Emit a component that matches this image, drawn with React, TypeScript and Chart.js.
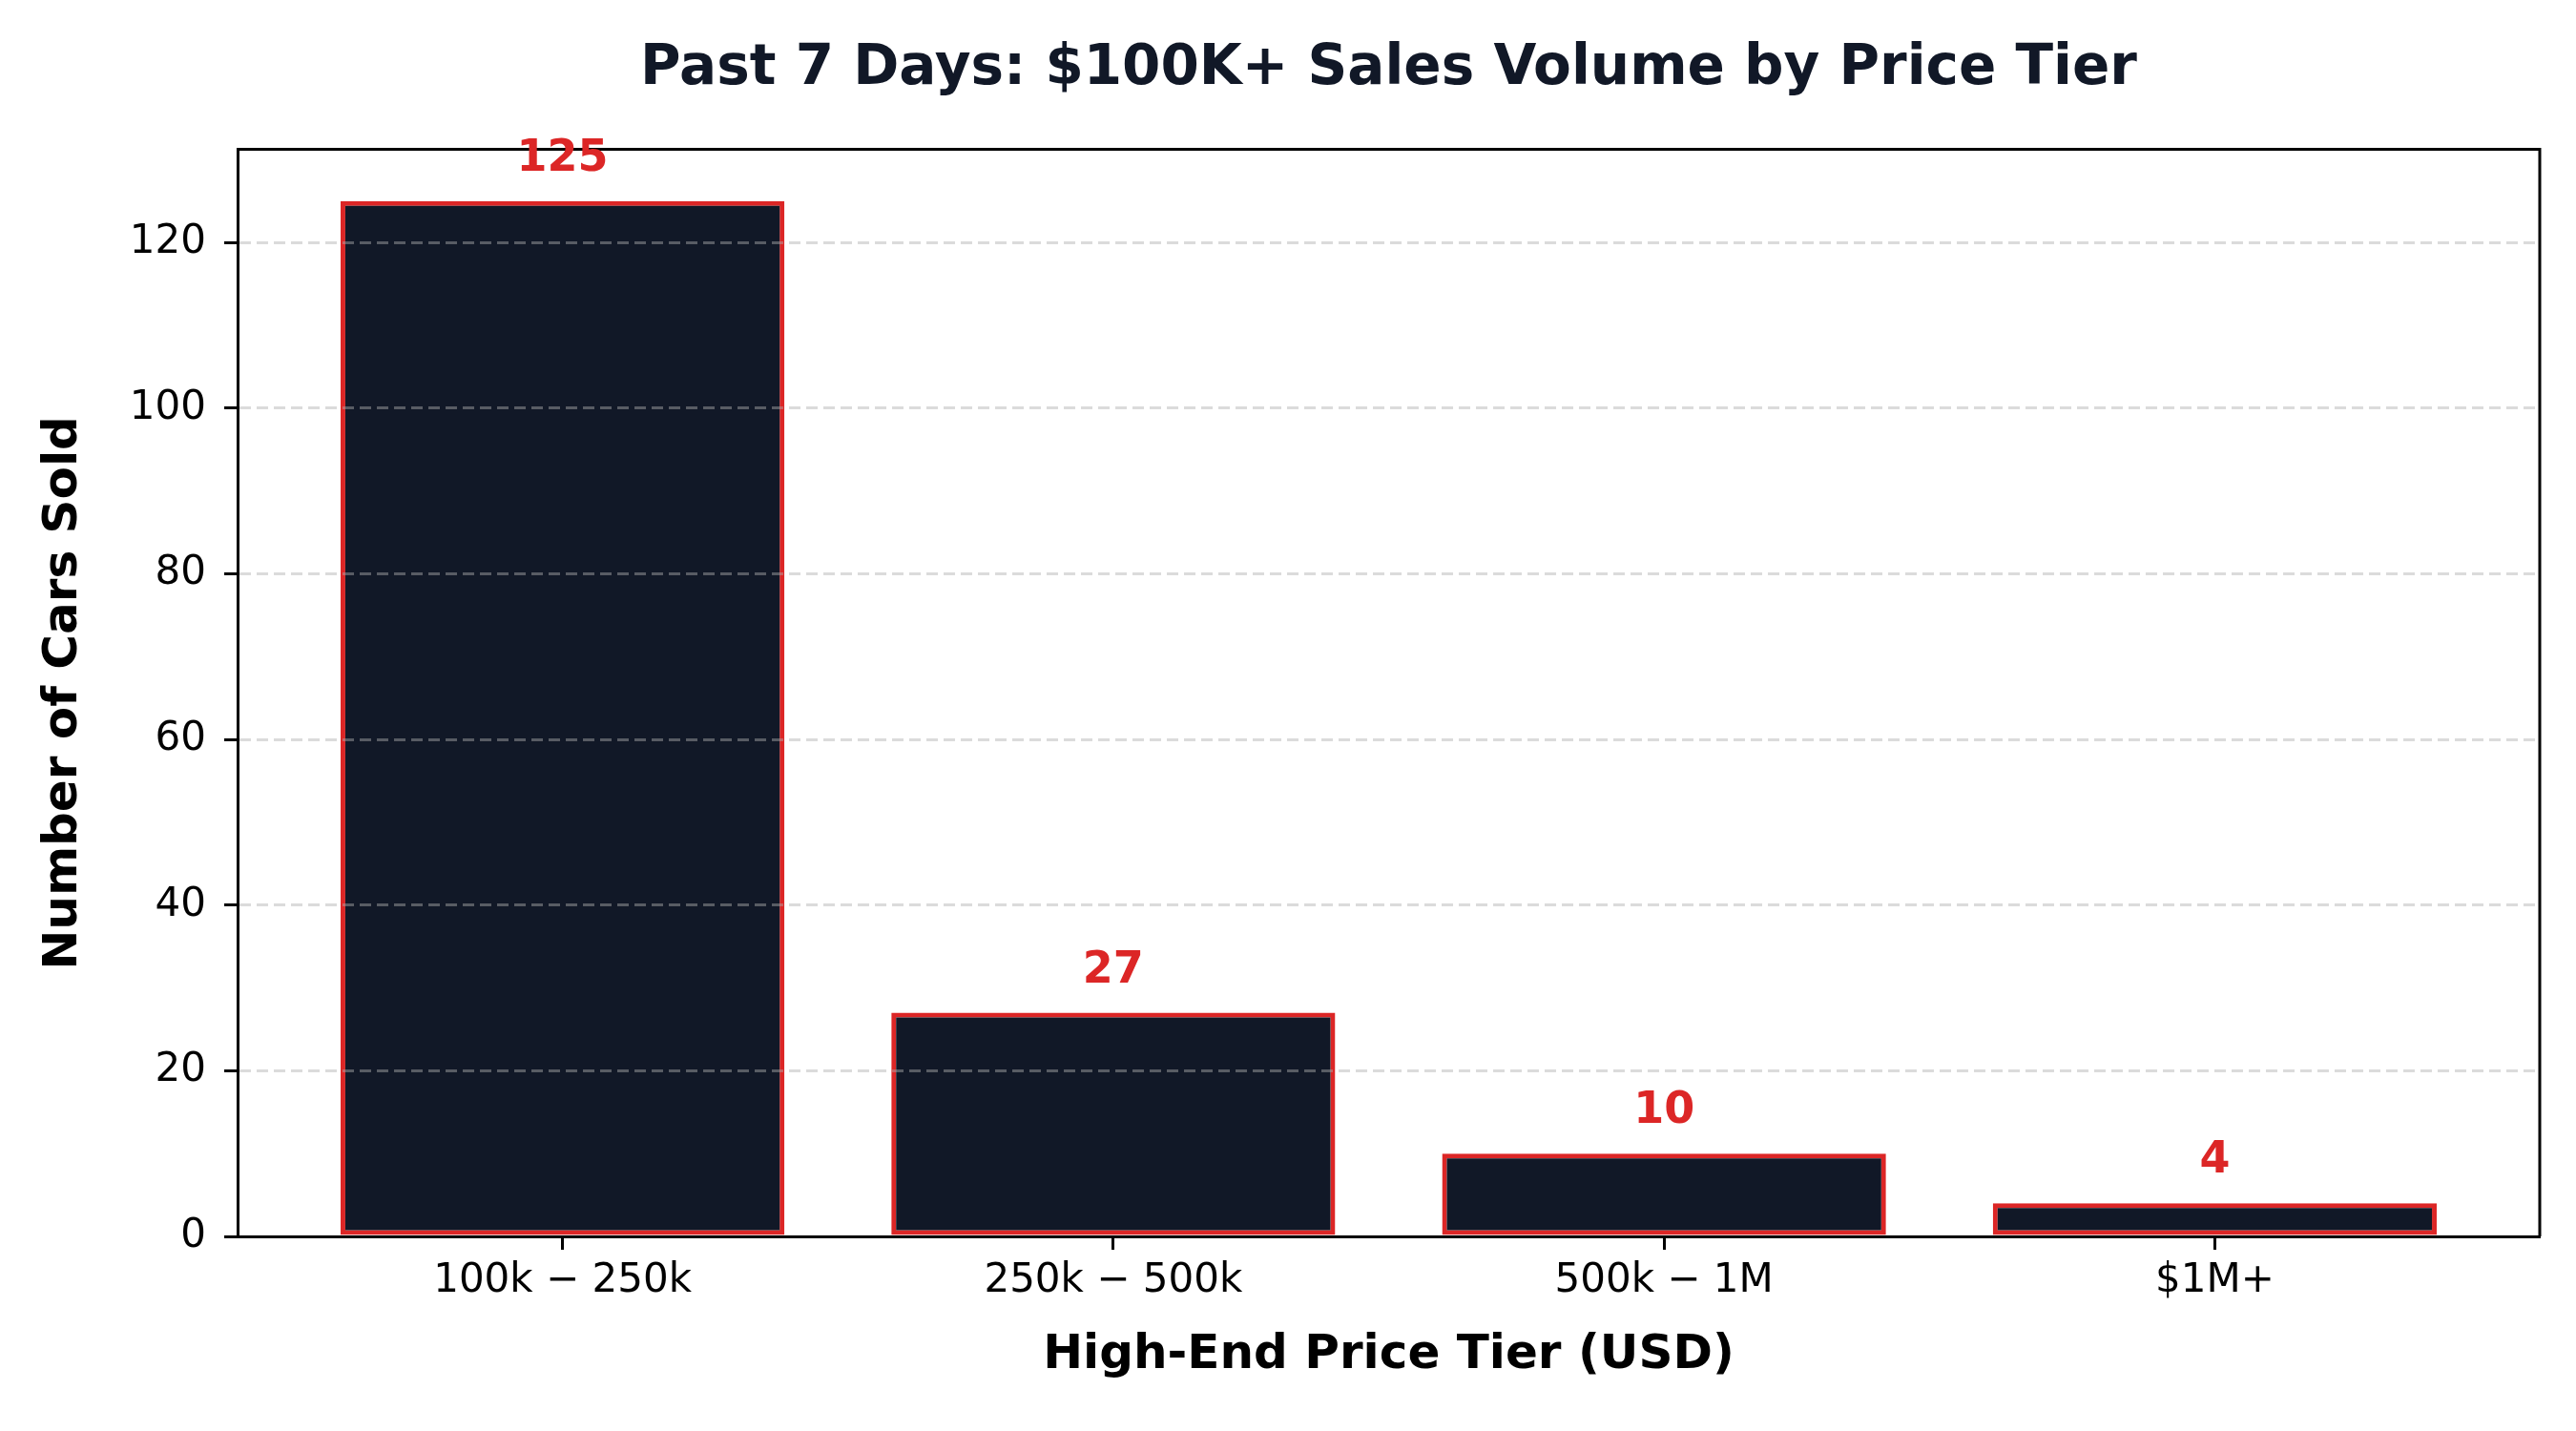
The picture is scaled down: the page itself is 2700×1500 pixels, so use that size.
import { useEffect, useRef } from "react"
import Chart from "chart.js/auto"

const categories = ["100k − 250k", "250k − 500k", "500k − 1M", "$1M+"]
const carsSold = [125, 27, 10, 4]
const yTicks = [0, 20, 40, 60, 80, 100, 120]

const NAVY = "#111827"
const RED = "#DC2626"
const FONT = "'DejaVu Sans', sans-serif"

// top + right spines and the red value labels over each bar
const framePlugin = {
  id: "frame",
  afterDraw(chart: any) {
    const { ctx, chartArea } = chart
    ctx.save()
    ctx.strokeStyle = "#000"
    ctx.lineWidth = 3
    ctx.beginPath()
    ctx.moveTo(chartArea.left, chartArea.top)
    ctx.lineTo(chartArea.right, chartArea.top)
    ctx.lineTo(chartArea.right, chartArea.bottom)
    ctx.stroke()

    const meta = chart.getDatasetMeta(0)
    ctx.fillStyle = RED
    ctx.font = `bold 46px ${FONT}`
    ctx.textAlign = "center"
    ctx.textBaseline = "alphabetic"
    meta.data.forEach((bar: any, i: number) => {
      ctx.fillText(String(carsSold[i]), bar.x, bar.y - 32)
    })
    ctx.restore()
  },
}

function SalesChart() {
  const chartRef = useRef<HTMLCanvasElement>(null)
  const chartInstance = useRef<Chart | null>(null)

  useEffect(() => {
    document.body.style.margin = "0"
    if (!chartRef.current) return
    if (chartInstance.current) chartInstance.current.destroy()

    const ctx = chartRef.current.getContext("2d")
    if (!ctx) return

    chartInstance.current = new Chart(ctx, {
      type: "bar",
      data: {
        datasets: [
          {
            label: "Cars Sold",
            data: carsSold.map((v, i) => ({ x: i, y: v })),
            backgroundColor: NAVY,
            borderColor: RED,
            borderWidth: 5,
            borderSkipped: false,
            categoryPercentage: 1,
            barPercentage: 0.806,
          },
        ],
      },
      options: {
        animation: false,
        responsive: true,
        maintainAspectRatio: false,
        layout: { padding: { left: 0, right: 38, top: 0, bottom: 0 } },
        scales: {
          x: {
            type: "linear",
            min: -0.59,
            max: 3.59,
            offset: false,
            afterBuildTicks: (s: any) => {
              s.ticks = categories.map((_, i) => ({ value: i }))
            },
            afterFit: (s: any) => {
              s.height = 204
            },
            grid: {
              display: true,
              offset: false,
              drawOnChartArea: false,
              drawTicks: true,
              tickLength: 14,
              tickWidth: 3,
              tickColor: "#000",
            },
            border: { display: true, color: "#000", width: 3, z: 2 },
            ticks: {
              autoSkip: false,
              maxRotation: 0,
              padding: 8,
              color: "#000",
              font: { family: FONT, size: 42 },
              callback: (value: any) => categories[value] ?? "",
            },
            title: {
              display: true,
              text: "High-End Price Tier (USD)",
              color: "#000",
              font: { family: FONT, size: 50, weight: "bold" },
              padding: { top: 0, bottom: 49 },
            },
          },
          y: {
            min: 0,
            max: 131.25,
            afterBuildTicks: (s: any) => {
              s.ticks = yTicks.map((v) => ({ value: v }))
            },
            afterFit: (s: any) => {
              s.width = 249
            },
            grid: {
              color: "rgba(176,176,176,0.45)",
              lineWidth: 3,
              tickLength: 14,
              tickWidth: 3,
              tickColor: "#000",
              tickBorderDash: [],
              z: 1,
            },
            border: { display: true, color: "#000", width: 3, z: 2, dash: [12, 6] },
            ticks: {
              padding: 19,
              color: "#000",
              font: { family: FONT, size: 42 },
            },
            title: {
              display: true,
              text: "Number of Cars Sold",
              color: "#000",
              font: { family: FONT, size: 50, weight: "bold" },
              padding: { top: 37, bottom: 0 },
            },
          },
        },
        plugins: {
          legend: { display: false },
          tooltip: { enabled: false },
          title: {
            display: true,
            fullSize: false,
            text: "Past 7 Days: $100K+ Sales Volume by Price Tier",
            color: NAVY,
            font: { family: FONT, size: 58, weight: "bold" },
            padding: { top: 38, bottom: 49 },
          },
        },
      },
      plugins: [framePlugin],
    } as any)

    return () => {
      if (chartInstance.current) {
        chartInstance.current.destroy()
        chartInstance.current = null
      }
    }
  }, [])

  return (
    <div style={{ width: 2700, height: 1500, position: "relative", background: "#fff" }}>
      <canvas ref={chartRef}></canvas>
    </div>
  )
}

export default function App() {
  return <SalesChart />
}
